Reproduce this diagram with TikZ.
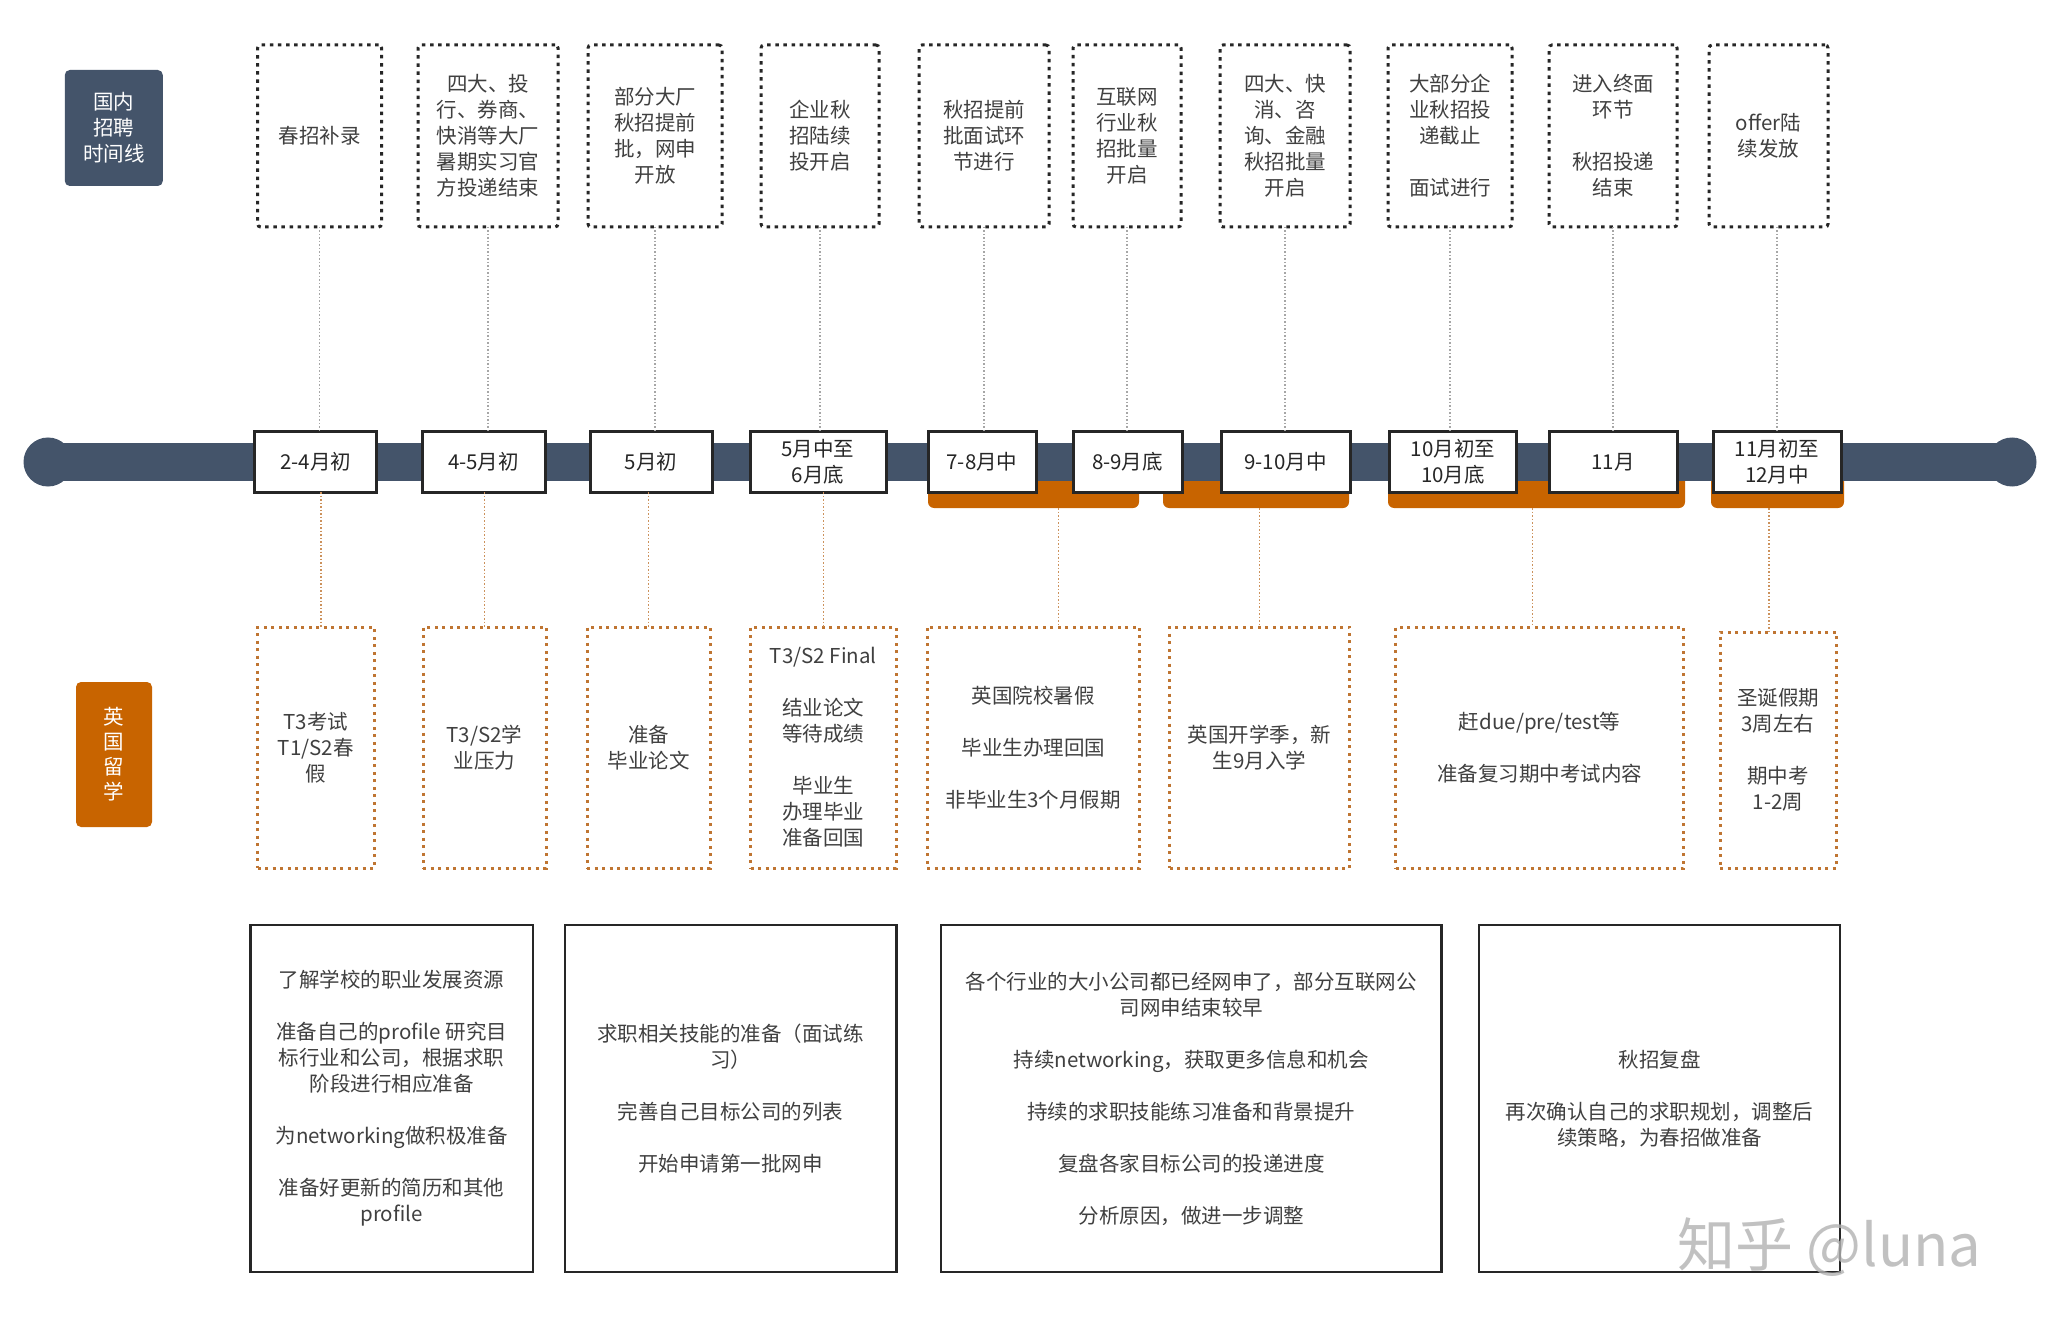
\documentclass[tikz,border=0pt]{standalone}
\usepackage{fontspec}
\setmainfont{Noto Sans CJK SC}
\usetikzlibrary{calc}
\definecolor{slate}{HTML}{44546A}
\definecolor{orng}{HTML}{C86400}
\definecolor{odot}{HTML}{BF7532}
\definecolor{txt}{HTML}{404040}
\definecolor{dk}{HTML}{262626}
\begin{document}
\begin{tikzpicture}[x=1pt,y=-1pt,
 every node/.style={inner sep=0pt, outer sep=0pt, align=center, font=\fontsize{20.5}{26}\selectfont, text=txt},
 topbox/.style={draw=dk, line width=3pt, dash pattern=on 3.5pt off 4.6pt, rounded corners=3pt, minimum height=182pt},
 datebox/.style={draw=dk, line width=3pt, fill=white, minimum height=60pt, text=dk},
 obar/.style={fill=orng, rounded corners=6pt, minimum height=38pt},
 ubox/.style={draw=odot, line width=3pt, dash pattern=on 3pt off 4.5pt},
 planbox/.style={draw=dk, line width=2.5pt, minimum height=347pt},
 sidetag/.style={fill=#1, rounded corners=5pt, text=white},
 gline/.style={draw=gray!70, line width=1.5pt, dotted},
 oline/.style={draw=odot!80, line width=1.5pt, dotted},
]
\useasboundingbox (0,0) rectangle (2054,1329);
\fill[white] (0,0) rectangle (2054,1329);

% side tags
\node[sidetag=slate, minimum width=98pt, minimum height=116pt] (s1) at (113.8,128) {国内\\招聘\\时间线};
\node[sidetag=orng, minimum width=76pt, minimum height=145pt, font=\fontsize{20.5}{25}\selectfont] (s2) at (114,754.5) {英\\国\\留\\学};

% orange bars
\node[obar, minimum width=211pt] (ob1) at (1033.5,489) {};
\node[obar, minimum width=186pt] (ob2) at (1256,489) {};
\node[obar, minimum width=297pt] (ob3) at (1536.5,489) {};
\node[obar, minimum width=133pt] (ob4) at (1777.5,489) {};

% timeline bar
\coordinate (lend) at (48,462);
\coordinate (rend) at (2012,462);
\draw[slate, line width=37pt] (lend) -- (rend);
\fill[slate] (lend) circle (24.5pt);
\fill[slate] (rend) circle (24.5pt);

% date boxes
\node[datebox, minimum width=122.5pt] (d1) at (315.7,462) {2-4月初};
\node[datebox, minimum width=123pt] (d2) at (483.5,462) {4-5月初};
\node[datebox, minimum width=122pt] (d3) at (651,462) {5月初};
\node[datebox, minimum width=136pt] (d4) at (818,462) {5月中至\\6月底};
\node[datebox, minimum width=108pt] (d5) at (982,462) {7-8月中};
\node[datebox, minimum width=109pt] (d6) at (1127.5,462) {8-9月底};
\node[datebox, minimum width=129pt] (d7) at (1285.5,462) {9-10月中};
\node[datebox, minimum width=126.5pt] (d8) at (1453,462) {10月初至\\10月底};
\node[datebox, minimum width=128pt] (d9) at (1613,462) {11月};
\node[datebox, minimum width=128pt] (d10) at (1777,462) {11月初至\\12月中};

% top boxes
\node[topbox, minimum width=124pt] (t1) at (319.6,136) {春招补录};
\node[topbox, minimum width=140pt] (t2) at (488,136) {四大、投\\行、券商、\\快消等大厂\\暑期实习官\\方投递结束};
\node[topbox, minimum width=134pt] (t3) at (655,136) {部分大厂\\秋招提前\\批，网申\\开放};
\node[topbox, minimum width=118pt] (t4) at (820,136) {企业秋\\招陆续\\投开启};
\node[topbox, minimum width=130pt] (t5) at (984,136) {秋招提前\\批面试环\\节进行};
\node[topbox, minimum width=108pt] (t6) at (1127,136) {互联网\\行业秋\\招批量\\开启};
\node[topbox, minimum width=130pt] (t7) at (1285,136) {四大、快\\消、咨\\询、金融\\秋招批量\\开启};
\node[topbox, minimum width=124pt] (t8) at (1450,136) {大部分企\\业秋招投\\递截止\\[26pt]面试进行};
\node[topbox, minimum width=128pt] (t9) at (1613,136) {进入终面\\环节\\[26pt]秋招投递\\结束};
\node[topbox, minimum width=119pt] (t10) at (1768.5,136) {offer陆\\续发放};

% gray connectors
\foreach \i in {1,...,9} {
  \draw[gline] (t\i.south) -- (t\i.south |- d\i.north);
}
\draw[gline] (d10.north |- t10.south) -- (d10.north);

% UK boxes
\node[ubox, minimum width=116.5pt, minimum height=241pt] (o1) at (315.75,747.5) {T3考试\\T1/S2春\\假};
\node[ubox, minimum width=123pt, minimum height=241pt] (o2) at (484.5,747.5) {T3/S2学\\业压力};
\node[ubox, minimum width=123pt, minimum height=241pt] (o3) at (648.5,747.5) {准备\\毕业论文};
\node[ubox, minimum width=145.4pt, minimum height=241pt] (o4) at (823.3,747.5) {T3/S2 Final\\[26pt]结业论文\\等待成绩\\[26pt]毕业生\\办理毕业\\准备回国};
\node[ubox, minimum width=212.6pt, minimum height=241pt] (o5) at (1033.3,747.5) {英国院校暑假\\[26pt]毕业生办理回国\\[26pt]非毕业生3个月假期};
\node[ubox, minimum width=180pt, minimum height=241pt] (o6) at (1259.6,747.5) {英国开学季，新\\生9月入学};
\node[ubox, minimum width=288pt, minimum height=241pt] (o7) at (1539.6,747.5) {赶due/pre/test等\\[26pt]准备复习期中考试内容};
\node[ubox, minimum width=116pt, minimum height=236pt] (o8) at (1778,750) {圣诞假期\\3周左右\\[26pt]期中考\\1-2周};

% orange connectors
\draw[oline] ([xshift=5pt]o1.north |- d1.south) -- ([xshift=5pt]o1.north);
\draw[oline] (o2.north |- d2.south) -- (o2.north);
\draw[oline] (o3.north |- d3.south) -- (o3.north);
\draw[oline] (o4.north |- d4.south) -- (o4.north);
\draw[oline] ([xshift=25pt]o5.north |- ob1.south) -- ([xshift=25pt]o5.north);
\draw[oline] (o6.north |- ob2.south) -- (o6.north);
\draw[oline] ([xshift=-7pt]o7.north |- ob3.south) -- ([xshift=-7pt]o7.north);
\draw[oline] ([xshift=-9pt]o8.north |- ob4.south) -- ([xshift=-9pt]o8.north);

% plan boxes
\node[planbox, minimum width=282.6pt] (p1) at (391.7,1098.5) {了解学校的职业发展资源\\[26pt]准备自己的profile 研究目\\标行业和公司，根据求职\\阶段进行相应准备\\[26pt]为networking做积极准备\\[26pt]准备好更新的简历和其他\\profile};
\node[planbox, minimum width=331.7pt] (p2) at (730.6,1098.5) {求职相关技能的准备（面试练\\习）\\[26pt]完善自己目标公司的列表\\[26pt]开始申请第一批网申};
\node[planbox, minimum width=500.6pt] (p3) at (1191.3,1098.5) {各个行业的大小公司都已经网申了，部分互联网公\\司网申结束较早\\[26pt]持续networking，获取更多信息和机会\\[26pt]持续的求职技能练习准备和背景提升\\[26pt]复盘各家目标公司的投递进度\\[26pt]分析原因，做进一步调整};
\node[planbox, minimum width=361pt] (p4) at (1659.5,1098.5) {秋招复盘\\[26pt]再次确认自己的求职规划，调整后\\续策略，为春招做准备};

% watermark
\node[text=gray!60, text opacity=0.8, font=\fontsize{58}{58}\selectfont, anchor=west] (wm) at (1677,1247) {知乎\hspace{14pt}@luna};
\end{tikzpicture}
\end{document}
